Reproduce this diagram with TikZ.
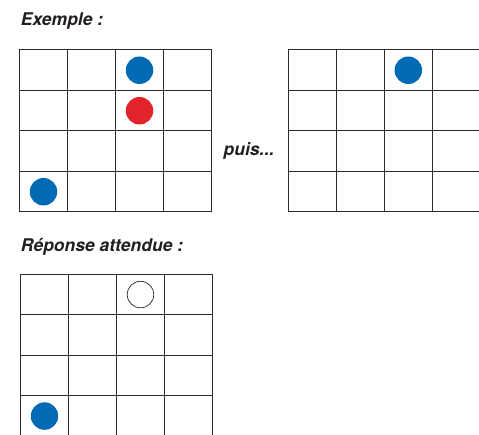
\documentclass[tikz,border=0pt]{standalone}
\usepackage{fontspec}
\setmainfont{TeX Gyre Heros}
\definecolor{JetonBleu}{HTML}{006AB5}
\definecolor{JetonRouge}{HTML}{E1232B}
\definecolor{Trait}{HTML}{2B2B2B}
\definecolor{Texte}{HTML}{231F20}
\usetikzlibrary{positioning}
\tikzset{
    % Grid cell
    cell/.style={
        rectangle,
        draw=Trait,
        line width=1pt,
        minimum width=48pt,
        minimum height=40.5pt,
        inner sep=0pt,
        outer sep=0pt
    },
    % Filled token
    token/.style={
        circle,
        minimum size=27.5pt,
        inner sep=0pt
    },
    % Empty token
    hole/.style={
        circle,
        draw=Trait,
        line width=0.7pt,
        fill=white,
        minimum size=26.5pt,
        inner sep=0pt
    },
    % Titles
    title/.style={
        anchor=base west,
        inner sep=0pt,
        text=Texte,
        font=\fontsize{17.5}{20}\selectfont\bfseries\itshape
    }
}
\begin{document}
\begin{tikzpicture}[x=1pt, y=-1pt]
    \useasboundingbox (0,0) rectangle (479,435);
    \clip (0,0) rectangle (479,435);

    % Titles
    \node (ttl-ex) [title] at (20.7,26) {Exemple :};
    \node (ttl-puis) [title] at (223.5,156) {puis...};
    \node (ttl-rep) [title] at (20.7,251.5) {Réponse attendue :};

    % Grids
    \foreach \r in {1,...,4} {
        \foreach \c in {1,...,4} {
            \node (ex-\r-\c) [cell] at ({19.5+48*(\c-0.5)},{50+40.5*(\r-0.5)}) {};
            \node (nx-\r-\c) [cell] at ({288.3+48*(\c-0.5)},{50+40.5*(\r-0.5)}) {};
            \node (rep-\r-\c) [cell] at ({20.5+48*(\c-0.5)},{274.3+40.5*(\r-0.5)}) {};
        }
    }

    % Tokens
    \node (ex-a) [token, fill=JetonBleu] at (ex-1-3) {};
    \node (ex-b) [token, fill=JetonRouge] at (ex-2-3) {};
    \node (ex-c) [token, fill=JetonBleu] at (ex-4-1) {};
    \node (nx-a) [token, fill=JetonBleu] at (nx-1-3) {};
    \node (rep-a) [hole] at (rep-1-3) {};
    \node (rep-c) [token, fill=JetonBleu] at (rep-4-1) {};
\end{tikzpicture}
\end{document}
